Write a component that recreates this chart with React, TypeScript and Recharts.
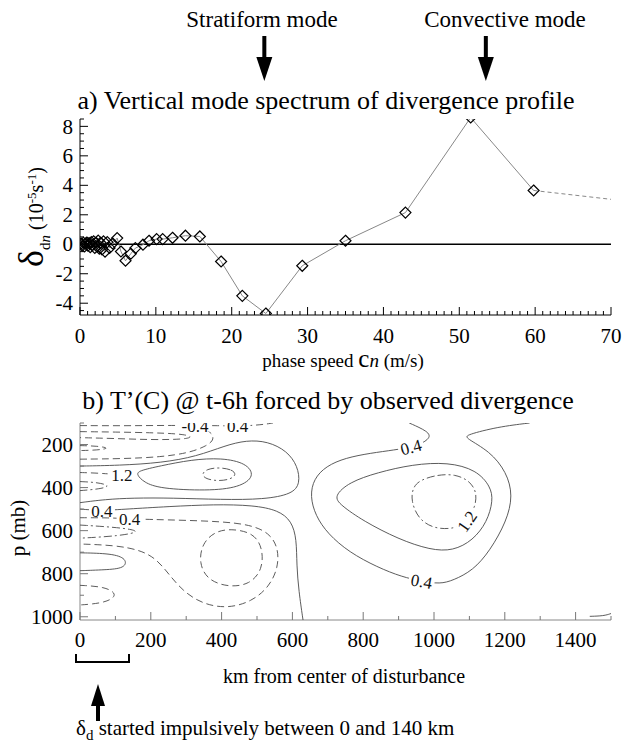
import React from 'react';
import { ComposedChart, Scatter, XAxis, YAxis, ReferenceLine } from 'recharts';

// ---------------- Panel a: vertical mode spectrum ----------------
const phaseSpeed = [0.15, 0.3, 0.45, 0.6, 0.75, 0.9, 1.05, 1.2, 1.35, 1.5, 1.65, 1.8, 1.95, 2.1, 2.25, 2.4, 2.55, 2.7,
  2.9, 3.1, 3.3, 3.6, 3.9, 4.3,
  4.9, 5.4, 6.0, 6.7, 7.3, 8.3, 9.1, 10.1, 10.9, 12.2, 13.9, 15.8,
  18.6, 21.4, 24.5, 29.3, 35.0, 42.9, 51.5, 59.8];
const divergence = [0.05, -0.1, 0.1, -0.15, 0.05, 0.12, -0.1, 0.08, -0.2, 0.15, -0.05, 0.2, -0.25, 0.1, -0.15, 0.25, -0.3, 0.1,
  -0.35, 0.2, -0.5, 0.15, -0.25, 0.05,
  0.42, -0.49, -1.12, -0.64, -0.26, -0.03, 0.24, 0.35, 0.35, 0.44, 0.58, 0.53,
  -1.17, -3.5, -4.7, -1.46, 0.24, 2.15, 8.6, 3.65];
const tailSpeed = [59.8, 70];
const tailDivergence = [3.65, 3.05];

const xMajorA = [0, 10, 20, 30, 40, 50, 60, 70];
const yMajorA = [-4, -2, 0, 2, 4, 6, 8];
const STRATIFORM_C = 24.3;
const CONVECTIVE_C = 53.5;

// ---------------- Panel b: temperature contours (km, mb) ----------------
const xMajorB = [0, 200, 400, 600, 800, 1000, 1200, 1400];
const yMajorB = [200, 400, 600, 800, 1000];

const cLeftOuter = [[0, 300], [110, 297], [230, 285], [330, 255], [410, 205], [470, 180], [530, 185], [585, 230], [615, 300], [622, 380], [600, 430], [520, 455], [400, 456], [260, 448], [150, 448], [70, 455], [0, 470]];
const cLeftMid = [[160, 340], [180, 375], [225, 405], [360, 415], [450, 400], [495, 347], [470, 286], [400, 262], [315, 270], [225, 300], [165, 322]];
const cLeftInner = [[392, 306], [430, 316], [442, 340], [425, 362], [390, 370], [355, 360], [343, 338], [358, 314]];
const cCentral = [[0, 500], [62, 507], [130, 500], [250, 488], [380, 478], [490, 482], [560, 505], [598, 555], [612, 640], [612, 760], [618, 880], [630, 1015]];
const cRightOuter = [[930, 100], [985, 140], [990, 170], [960, 200], [935, 212], [890, 225], [820, 240], [750, 262], [695, 300], [660, 360], [650, 440], [665, 530], [700, 615], [760, 700], [840, 770], [910, 815], [965, 835], [1017, 848], [1054, 831], [1110, 785], [1158, 694], [1205, 557], [1223, 437], [1205, 328], [1158, 231], [1088, 169], [1092, 155], [1180, 118], [1270, 100]];
const cRightMid = [[717, 440], [760, 375], [840, 330], [940, 292], [1040, 282], [1120, 318], [1160, 395], [1167, 460], [1150, 560], [1110, 645], [1054, 694], [990, 690], [900, 640], [800, 555], [735, 480]];
const cRightInner = [[960, 365], [1010, 340], [1060, 338], [1100, 368], [1121, 420], [1117, 490], [1093, 557], [1060, 592], [1000, 592], [955, 545], [935, 460], [940, 400]];
const cTop = [[0, 112], [120, 113], [250, 111], [325, 112], [390, 112], [445, 115], [500, 110], [530, 104], [545, 100]];
const cTopTongue = [[0, 140], [100, 142], [200, 145], [280, 150], [320, 162], [300, 176], [200, 178], [100, 172], [0, 168]];
const cTongue1 = [[0, 205], [50, 207], [85, 217], [50, 226], [0, 228]];
const cLong = [[0, 268], [120, 266], [230, 258], [310, 238], [360, 205], [380, 175], [370, 140], [340, 122]];
const cShort = [[0, 330], [40, 332], [78, 336]];
const cTongue2 = [[0, 372], [50, 376], [88, 392], [55, 407], [0, 414]];
const cColdOuter = [[0, 540], [80, 540], [140, 545], [200, 548], [300, 552], [400, 558], [480, 572], [535, 610], [560, 680], [560, 770], [535, 860], [485, 930], [415, 962], [345, 940], [290, 880], [250, 800], [215, 730], [170, 690], [100, 668], [0, 662]];
const cColdInner = [[426, 590], [490, 610], [516, 680], [516, 780], [480, 850], [420, 863], [360, 830], [336, 750], [345, 660], [380, 605]];
const cTongue3 = [[0, 574], [110, 585], [179, 603], [110, 625], [0, 635]];
const cTongue4 = [[0, 703], [90, 706], [132, 730], [128, 775], [70, 782], [0, 786]];
const cTongue5 = [[0, 854], [70, 860], [107, 895], [80, 930], [30, 942], [0, 945]];
const cCorner = [[1440, 998], [1480, 996], [1500, 985]];

const labelText = ['-0.4', '0.4', '1.2', '0.4', '0.4', '0.4', '1.2', '0.4'];
const labelKm = [325, 445, 118, 62, 140, 935, 1093, 965];
const labelMb = [112, 116, 340, 507, 545, 212, 557, 835];
const labelAngle = [0, 0, 0, 0, 0, -15, -55, 10];

// ---------------- helpers ----------------
const range = (a: number, b: number, s: number) => {
  const out: number[] = [];
  for (let v = a; v <= b + 1e-9; v += s) out.push(Math.round(v * 1000) / 1000);
  return out;
};
const xTicksA = range(0, 70, 1);
const yTicksA = range(-4.5, 8.5, 0.5);
const xTicksB = range(0, 1500, 100);
const yTicksB = range(100, 1000, 100);

const serif = '"Liberation Serif", "Times New Roman", serif';

type Side = 'left' | 'right' | 'top' | 'bottom';
function makeTick(side: Side, majors: number[], margin: number, labels: boolean, color: string) {
  const T = (props: any) => {
    const { x, y, payload } = props;
    const v = Number(payload.value);
    const major = majors.some((m) => Math.abs(m - v) < 1e-6);
    const len = major ? 8 : 4;
    let x1 = x, y1 = y, x2 = x, y2 = y;
    if (side === 'left') { x1 = x + margin; x2 = x1 + len; }
    else if (side === 'right') { x1 = x - margin; x2 = x1 - len; }
    else if (side === 'bottom') { y1 = y - margin; y2 = y1 - len; }
    else { y1 = y + margin; y2 = y1 + len; }
    return (
      <g>
        <line x1={x1} y1={y1} x2={x2} y2={y2} stroke={color} strokeWidth={1} />
        {labels && major ? (
          <text x={x} y={y} textAnchor={side === 'left' ? 'end' : 'middle'} dy={side === 'left' ? '0.34em' : '0.72em'}
            fontFamily={serif} fontSize={21} fill="#000">{String(v)}</text>
        ) : null}
      </g>
    );
  };
  return T;
}

const tickABottom = makeTick('bottom', xMajorA, 13, true, '#000');
const tickATop = makeTick('top', xMajorA, 0, false, '#000');
const tickALeft = makeTick('left', yMajorA, 7, true, '#000');
const tickARight = makeTick('right', yMajorA, 0, false, '#000');
const tickBBottom = makeTick('bottom', xMajorB, 12, true, '#777');
const tickBTop = makeTick('top', xMajorB, 0, false, '#777');
const tickBLeft = makeTick('left', yMajorB, 7, true, '#777');
const tickBRight = makeTick('right', yMajorB, 0, false, '#777');

const Diamond = (props: any) => {
  const { cx, cy } = props;
  const r = 5.5;
  return <path d={`M${cx},${cy - r}L${cx + r},${cy}L${cx},${cy + r}L${cx - r},${cy}Z`} fill="none" stroke="#000" strokeWidth={1.2} />;
};
const NoShape = () => <g />;

const ContourLabel = (props: any) => {
  const { cx, cy, payload } = props;
  const w = payload.text.length * 8 + 2;
  return (
    <g transform={`rotate(${payload.angle} ${cx} ${cy})`}>
      <rect x={cx - w / 2} y={cy - 6} width={w} height={12} fill="#fff" />
      <text x={cx} y={cy} dy="0.35em" textAnchor="middle" fontFamily={serif} fontSize={17} fill="#111">{payload.text}</text>
    </g>
  );
};

const toPts = (arr: number[][]) => arr.map(([x, y]) => ({ x, y }));
const SOLID = undefined;
const DASH = '7 4';
const DASHDOT = '8 3 2 3';
const contourDefs: { pts: number[][]; dash?: string; closed: boolean }[] = [
  { pts: cLeftOuter, dash: SOLID, closed: false },
  { pts: cLeftMid, dash: SOLID, closed: true },
  { pts: cLeftInner, dash: DASHDOT, closed: true },
  { pts: cCentral, dash: SOLID, closed: false },
  { pts: cRightOuter, dash: SOLID, closed: false },
  { pts: cRightMid, dash: SOLID, closed: true },
  { pts: cRightInner, dash: DASHDOT, closed: true },
  { pts: cTop, dash: DASH, closed: false },
  { pts: cTopTongue, dash: DASH, closed: false },
  { pts: cTongue1, dash: DASH, closed: false },
  { pts: cLong, dash: DASH, closed: false },
  { pts: cShort, dash: DASH, closed: false },
  { pts: cTongue2, dash: DASHDOT, closed: false },
  { pts: cColdOuter, dash: DASH, closed: false },
  { pts: cColdInner, dash: DASH, closed: true },
  { pts: cTongue3, dash: DASHDOT, closed: false },
  { pts: cTongue4, dash: SOLID, closed: false },
  { pts: cTongue5, dash: DASH, closed: false },
  { pts: cCorner, dash: SOLID, closed: false },
];

const spectrumData = phaseSpeed.map((c, i) => ({ x: c, y: divergence[i] }));
const tailData = tailSpeed.map((c, i) => ({ x: c, y: tailDivergence[i] }));
const labelData = labelText.map((t, i) => ({ x: labelKm[i], y: labelMb[i], text: t, angle: labelAngle[i] }));

// layout constants for annotations
const A_LEFT = 80, A_RIGHT = 611;
const xA = (c: number) => A_LEFT + (c / 70) * (A_RIGHT - A_LEFT);

const absText = (left: number, top: number, size: number, extra: React.CSSProperties = {}): React.CSSProperties => ({
  position: 'absolute', left, top, fontSize: size, lineHeight: 1, whiteSpace: 'nowrap', fontFamily: serif, color: '#000', ...extra,
});

export default function App() {
  return (
    <div style={{ position: 'absolute', left: 0, top: 0, width: 623, height: 746, background: '#fff', overflow: 'hidden' }}>
      {/* Panel a */}
      <div style={{ position: 'absolute', left: 0, top: 0 }}>
        <ComposedChart width={623} height={380} margin={{ top: 119, right: 12, bottom: 20, left: 20 }}>
          <XAxis xAxisId={0} type="number" dataKey="x" domain={[0, 70]} ticks={xTicksA} interval={0} allowDataOverflow
            height={45} tickSize={0} tickMargin={13} tickLine={false} axisLine={{ stroke: '#000' }} tick={tickABottom} />
          <XAxis xAxisId="top" orientation="top" type="number" dataKey="x" domain={[0, 70]} ticks={xTicksA} interval={0} allowDataOverflow
            height={0} tickSize={0} tickMargin={0} tickLine={false} axisLine={{ stroke: '#000' }} tick={tickATop} />
          <YAxis yAxisId={0} type="number" dataKey="y" domain={[-4.8, 8.5]} ticks={yTicksA} interval={0} allowDataOverflow
            width={60} tickSize={0} tickMargin={7} tickLine={false} axisLine={{ stroke: '#000' }} tick={tickALeft} />
          <YAxis yAxisId="right" orientation="right" type="number" dataKey="y" domain={[-4.8, 8.5]} ticks={yTicksA} interval={0} allowDataOverflow
            width={0} tickSize={0} tickMargin={0} tickLine={false} axisLine={{ stroke: '#000' }} tick={tickARight} />
          <ReferenceLine y={0} stroke="#000" strokeWidth={1.5} />
          <Scatter data={tailData} line={{ stroke: '#888', strokeWidth: 1, strokeDasharray: '4 3' }} lineType="joint" shape={NoShape} isAnimationActive={false} />
          <Scatter data={spectrumData} line={{ stroke: '#888', strokeWidth: 1 }} lineType="joint" shape={Diamond} isAnimationActive={false} />
        </ComposedChart>
      </div>

      {/* Panel b */}
      <div style={{ position: 'absolute', left: 0, top: 380 }}>
        <ComposedChart width={623} height={280} margin={{ top: 43, right: 12, bottom: 5, left: 20 }}>
          <XAxis xAxisId={0} type="number" dataKey="x" domain={[0, 1500]} ticks={xTicksB} interval={0} allowDataOverflow
            height={35} tickSize={0} tickMargin={12} tickLine={false} axisLine={{ stroke: '#888' }} tick={tickBBottom} />
          <XAxis xAxisId="top" orientation="top" type="number" dataKey="x" domain={[0, 1500]} ticks={xTicksB} interval={0} allowDataOverflow
            height={0} tickSize={0} tickMargin={0} tickLine={false} axisLine={{ stroke: '#888' }} tick={tickBTop} />
          <YAxis yAxisId={0} type="number" dataKey="y" domain={[100, 1015]} reversed ticks={yTicksB} interval={0} allowDataOverflow
            width={60} tickSize={0} tickMargin={7} tickLine={false} axisLine={{ stroke: '#888' }} tick={tickBLeft} />
          <YAxis yAxisId="right" orientation="right" type="number" dataKey="y" domain={[100, 1015]} reversed ticks={yTicksB} interval={0} allowDataOverflow
            width={0} tickSize={0} tickMargin={0} tickLine={false} axisLine={{ stroke: '#888' }} tick={tickBRight} />
          {contourDefs.map((c, i) => (
            <Scatter key={i} data={toPts(c.pts)}
              line={{ stroke: '#4a4a4a', strokeWidth: 0.9, strokeDasharray: c.dash }}
              lineType="joint" lineJointType={c.closed ? 'basisClosed' : 'basis'}
              shape={NoShape} isAnimationActive={false} />
          ))}
          <Scatter data={labelData} shape={ContourLabel} isAnimationActive={false} />
        </ComposedChart>
      </div>

      {/* Header annotations */}
      <div style={absText(262, 8, 23, { transform: 'translateX(-50%)' })}>Stratiform mode</div>
      <div style={absText(505, 8, 23, { transform: 'translateX(-50%)' })}>Convective mode</div>
      <svg width={623} height={746} style={{ position: 'absolute', left: 0, top: 0, pointerEvents: 'none' }}>
        {[xA(STRATIFORM_C), xA(CONVECTIVE_C)].map((ax, i) => (
          <g key={i}>
            <rect x={ax - 2} y={36} width={4} height={22} fill="#000" />
            <polygon points={`${ax - 8},57 ${ax + 8},57 ${ax},81`} fill="#000" />
          </g>
        ))}
        {/* bracket 0–140 km */}
        <path d="M76,654 L76,662 L129,662 L129,654" fill="none" stroke="#000" strokeWidth={2} />
        {/* upward arrow */}
        <polygon points="91,706 105,706 98,684" fill="#000" />
        <rect x={96} y={704} width={4} height={17} fill="#000" />
      </svg>

      {/* Titles */}
      <div style={absText(326, 88, 26, { transform: 'translateX(-50%)' })}>a) Vertical mode spectrum of divergence profile</div>
      <div style={absText(328, 388, 26, { transform: 'translateX(-50%)' })}>b) T’(C) @ t-6h forced by observed divergence</div>

      {/* Axis labels panel a */}
      <div style={absText(343, 346, 19, { transform: 'translateX(-50%)' })}>
        phase speed <span style={{ fontSize: 25 }}>c</span><i>n</i> (m/s)
      </div>
      <div style={absText(31, 217, 20, { transform: 'translate(-50%,-50%) rotate(-90deg)' })}>
        <span style={{ fontSize: 36 }}>δ</span>
        <span style={{ fontSize: 15, position: 'relative', top: 7 }}>d<i>n</i></span>
        <span> (10</span><span style={{ fontSize: 13, position: 'relative', top: -7 }}>-5</span>
        <span>s</span><span style={{ fontSize: 13, position: 'relative', top: -7 }}>-1</span><span>)</span>
      </div>

      {/* Axis labels panel b */}
      <div style={absText(18, 528, 21, { transform: 'translate(-50%,-50%) rotate(-90deg)' })}>p (mb)</div>
      <div style={absText(344, 666, 20, { transform: 'translateX(-50%)' })}>km from center of disturbance</div>
      <div style={absText(76, 718, 21)}>
        δ<span style={{ fontSize: 15, position: 'relative', top: 5 }}>d</span> started impulsively between 0 and 140 km
      </div>
    </div>
  );
}
